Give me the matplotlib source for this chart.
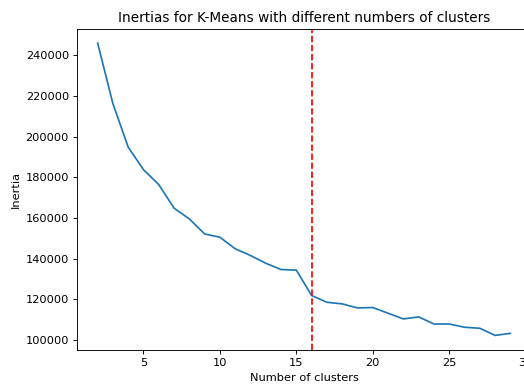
import matplotlib
matplotlib.use("Agg")
import matplotlib.pyplot as plt

# inertia per number of clusters
n_clusters = list(range(2, 30))
inertias = [246000, 216200, 194800, 183700, 176400, 164800, 159500, 152100,
            150500, 144800, 141500, 137700, 134600, 134300, 121800, 118500,
            117700, 115700, 115900, 113100, 110300, 111300, 107800, 107800,
            106200, 105700, 102200, 103200]
elbow = 16

DPI = 82
fig = plt.figure(figsize=(524 / DPI, 386 / DPI), dpi=DPI)
ax = fig.add_axes([77 / 524, 1 - 350 / 386, (531 - 77) / 524, (350 - 28.5) / 386])
ax.plot(n_clusters, inertias)
ax.axvline(elbow, color="red", linestyle="--")
ax.set(title="Inertias for K-Means with different numbers of clusters",
       xlabel="Number of clusters", ylabel="Inertia")
fig.savefig("out.png", dpi=DPI)
